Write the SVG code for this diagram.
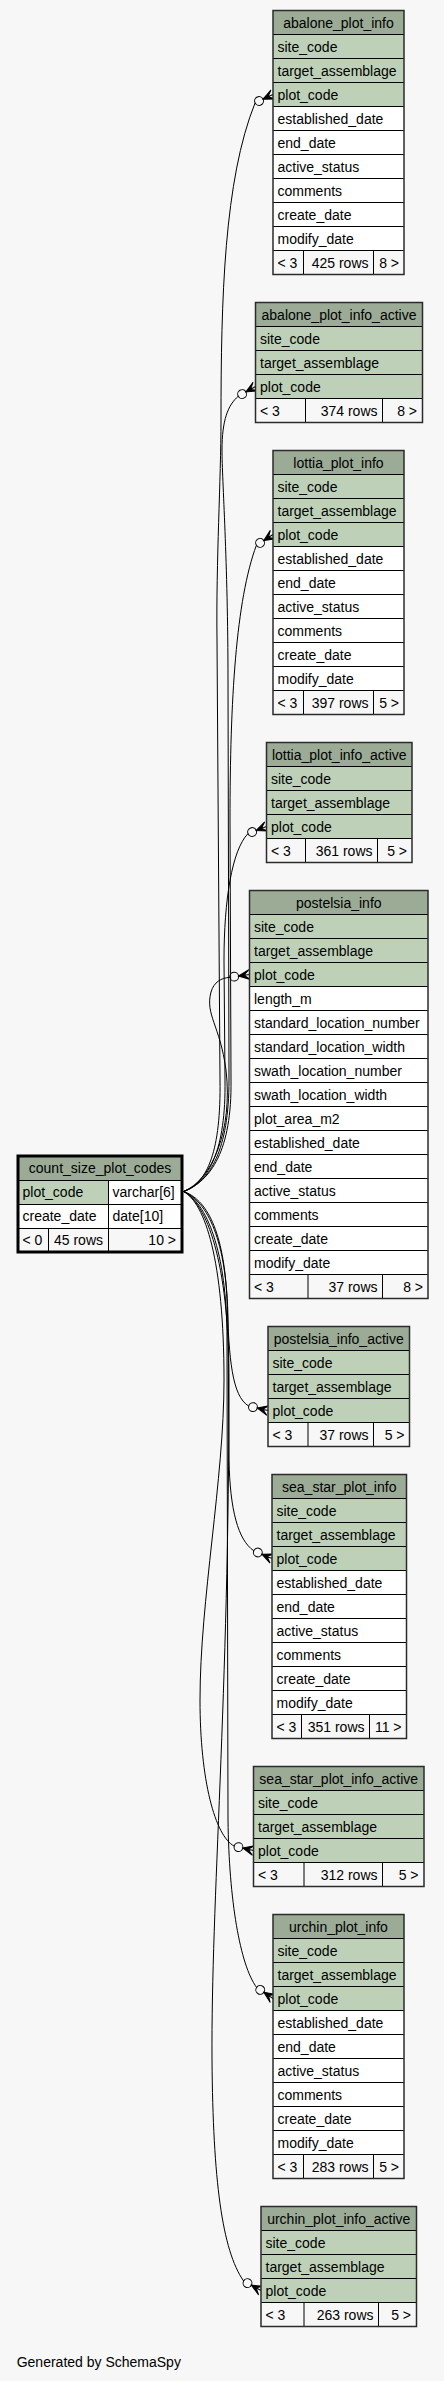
<svg xmlns="http://www.w3.org/2000/svg" xmlns:xlink="http://www.w3.org/1999/xlink" width="444" height="2381" viewBox="0 0 444 2381">
<style>
.h{fill:#9bab96}
.k{fill:#bed1b8}
.w{fill:#ffffff}
.f{fill:#f7f7f7}
.g{fill:none;stroke:#000;stroke-width:1}
.o{fill:none;stroke:#2b2b2b;stroke-width:1.5}
.t{font-family:"Liberation Sans",Arial,Helvetica,sans-serif;font-size:14px;fill:#000}
.c{text-anchor:middle}
.r{text-anchor:end}
.e{fill:none;stroke:#000;stroke-width:1}
</style>
<defs>
<g id="cf">
<polygon points="-11,0 0,-4.95 -5.5,0 0,0 -5.5,0 0,4.95 -11,0" fill="#000" stroke="#000" stroke-width="1"/>
<circle cx="-15.4" cy="0" r="4.4" fill="none" stroke="#000" stroke-width="1"/>
</g>
</defs>
<rect x="0" y="0" width="444" height="2381" fill="#f7f7f7"/>
<g id="connectors">
<path class="e" d="M183.5,1191.5 C208,1183 221,1150 220,1080 L217,640 C216,560 221,480 221,420 C221,300 224,180 255.1,102.9"/>
<path class="e" d="M183.5,1191.5 C210,1182 229,1150 229,1080 L228,680 C228,560 222,480 222,450 C222,420 228,405 238.3,396.2"/>
<path class="e" d="M183.5,1191.5 C211,1181 232,1150 231,1080 L230,820 C230,700 236,600 256.4,545.3"/>
<path class="e" d="M183.5,1191.5 C209,1182 226,1150 225,1080 L224,960 C224,900 232,850 248,833.6"/>
<path class="e" d="M183.5,1191.5 C212,1180 233,1130 226,1070 C220,1025 205,1015 211,992 C214,982 221,978 229.9,977.3"/>
<path class="e" d="M183.5,1191.5 C206,1199 224,1230 227,1300 C229,1360 232,1396 248.7,1406.1"/>
<path class="e" d="M183.5,1191.5 C207,1201 227,1240 228,1320 L229,1460 C230,1510 238,1540 253.8,1550.8"/>
<path class="e" d="M183.5,1191.5 C205,1203 224,1260 224,1380 C224,1480 200,1600 200,1700 C200,1780 215,1836 234.2,1846.1"/>
<path class="e" d="M183.5,1191.5 C206,1202 227,1250 227,1340 L228,1820 C229,1900 240,1965 256.6,1987.4"/>
<path class="e" d="M183.5,1191.5 C206,1203 229,1260 229,1380 C229,1700 211,1900 212,2060 C213,2180 222,2250 243.6,2281"/>
<use xlink:href="#cf" transform="translate(273,94.5) rotate(-25)"/>
<use xlink:href="#cf" transform="translate(255.5,386.5) rotate(-29.5)"/>
<use xlink:href="#cf" transform="translate(273,534.5) rotate(-33)"/>
<use xlink:href="#cf" transform="translate(266.5,826.5) rotate(-21)"/>
<use xlink:href="#cf" transform="translate(249.5,974.5) rotate(-8)"/>
<use xlink:href="#cf" transform="translate(268,1410.5) rotate(12.7)"/>
<use xlink:href="#cf" transform="translate(272,1558.5) rotate(23)"/>
<use xlink:href="#cf" transform="translate(253.5,1850.5) rotate(12.7)"/>
<use xlink:href="#cf" transform="translate(273,1998.5) rotate(34)"/>
<use xlink:href="#cf" transform="translate(261,2290.5) rotate(28.7)"/>
</g>

<g id="abalone_plot_info">
<rect class="h" x="273" y="10.5" width="131" height="24"/>
<rect class="k" x="273" y="34.5" width="131" height="72"/>
<rect class="w" x="273" y="106.5" width="131" height="144"/>
<rect class="f" x="273" y="250.5" width="131" height="24"/>
<path class="g" d="M273,34.5H404M273,58.5H404M273,82.5H404M273,106.5H404M273,130.5H404M273,154.5H404M273,178.5H404M273,202.5H404M273,226.5H404M273,250.5H404M303.5,250.5V274.5M373.5,250.5V274.5"/>
<rect class="o" x="273" y="10.5" width="131" height="264"/>
<text class="t c" x="338.5" y="27.5">abalone_plot_info</text>
<text class="t" x="277.5" y="51.5">site_code</text>
<text class="t" x="277.5" y="75.5">target_assemblage</text>
<text class="t" x="277.5" y="99.5">plot_code</text>
<text class="t" x="277.5" y="123.5">established_date</text>
<text class="t" x="277.5" y="147.5">end_date</text>
<text class="t" x="277.5" y="171.5">active_status</text>
<text class="t" x="277.5" y="195.5">comments</text>
<text class="t" x="277.5" y="219.5">create_date</text>
<text class="t" x="277.5" y="243.5">modify_date</text>
<text class="t" x="277.5" y="267.5">&lt; 3</text>
<text class="t r" x="368.5" y="267.5">425 rows</text>
<text class="t r" x="399" y="267.5">8 &gt;</text>
</g>

<g id="abalone_plot_info_active">
<rect class="h" x="255.5" y="302.5" width="167" height="24"/>
<rect class="k" x="255.5" y="326.5" width="167" height="72"/>
<rect class="f" x="255.5" y="398.5" width="167" height="24"/>
<path class="g" d="M255.5,326.5H422.5M255.5,350.5H422.5M255.5,374.5H422.5M255.5,398.5H422.5M305.5,398.5V422.5M382.5,398.5V422.5"/>
<rect class="o" x="255.5" y="302.5" width="167" height="120"/>
<text class="t c" x="339" y="319.5">abalone_plot_info_active</text>
<text class="t" x="260" y="343.5">site_code</text>
<text class="t" x="260" y="367.5">target_assemblage</text>
<text class="t" x="260" y="391.5">plot_code</text>
<text class="t" x="260" y="415.5">&lt; 3</text>
<text class="t r" x="377.5" y="415.5">374 rows</text>
<text class="t r" x="417" y="415.5">8 &gt;</text>
</g>

<g id="lottia_plot_info">
<rect class="h" x="273" y="450.5" width="131" height="24"/>
<rect class="k" x="273" y="474.5" width="131" height="72"/>
<rect class="w" x="273" y="546.5" width="131" height="144"/>
<rect class="f" x="273" y="690.5" width="131" height="24"/>
<path class="g" d="M273,474.5H404M273,498.5H404M273,522.5H404M273,546.5H404M273,570.5H404M273,594.5H404M273,618.5H404M273,642.5H404M273,666.5H404M273,690.5H404M303.5,690.5V714.5M373.5,690.5V714.5"/>
<rect class="o" x="273" y="450.5" width="131" height="264"/>
<text class="t c" x="338.5" y="467.5">lottia_plot_info</text>
<text class="t" x="277.5" y="491.5">site_code</text>
<text class="t" x="277.5" y="515.5">target_assemblage</text>
<text class="t" x="277.5" y="539.5">plot_code</text>
<text class="t" x="277.5" y="563.5">established_date</text>
<text class="t" x="277.5" y="587.5">end_date</text>
<text class="t" x="277.5" y="611.5">active_status</text>
<text class="t" x="277.5" y="635.5">comments</text>
<text class="t" x="277.5" y="659.5">create_date</text>
<text class="t" x="277.5" y="683.5">modify_date</text>
<text class="t" x="277.5" y="707.5">&lt; 3</text>
<text class="t r" x="368.5" y="707.5">397 rows</text>
<text class="t r" x="399" y="707.5">5 &gt;</text>
</g>

<g id="lottia_plot_info_active">
<rect class="h" x="266.5" y="742.5" width="145.5" height="24"/>
<rect class="k" x="266.5" y="766.5" width="145.5" height="72"/>
<rect class="f" x="266.5" y="838.5" width="145.5" height="24"/>
<path class="g" d="M266.5,766.5H412M266.5,790.5H412M266.5,814.5H412M266.5,838.5H412M305.5,838.5V862.5M377.5,838.5V862.5"/>
<rect class="o" x="266.5" y="742.5" width="145.5" height="120"/>
<text class="t c" x="339.25" y="759.5">lottia_plot_info_active</text>
<text class="t" x="271" y="783.5">site_code</text>
<text class="t" x="271" y="807.5">target_assemblage</text>
<text class="t" x="271" y="831.5">plot_code</text>
<text class="t" x="271" y="855.5">&lt; 3</text>
<text class="t r" x="372.5" y="855.5">361 rows</text>
<text class="t r" x="407" y="855.5">5 &gt;</text>
</g>

<g id="postelsia_info">
<rect class="h" x="249.5" y="890.5" width="178.5" height="24"/>
<rect class="k" x="249.5" y="914.5" width="178.5" height="72"/>
<rect class="w" x="249.5" y="986.5" width="178.5" height="288"/>
<rect class="f" x="249.5" y="1274.5" width="178.5" height="24"/>
<path class="g" d="M249.5,914.5H428M249.5,938.5H428M249.5,962.5H428M249.5,986.5H428M249.5,1010.5H428M249.5,1034.5H428M249.5,1058.5H428M249.5,1082.5H428M249.5,1106.5H428M249.5,1130.5H428M249.5,1154.5H428M249.5,1178.5H428M249.5,1202.5H428M249.5,1226.5H428M249.5,1250.5H428M249.5,1274.5H428M308,1274.5V1298.5M382.5,1274.5V1298.5"/>
<rect class="o" x="249.5" y="890.5" width="178.5" height="408"/>
<text class="t c" x="338.75" y="907.5">postelsia_info</text>
<text class="t" x="254" y="931.5">site_code</text>
<text class="t" x="254" y="955.5">target_assemblage</text>
<text class="t" x="254" y="979.5">plot_code</text>
<text class="t" x="254" y="1003.5">length_m</text>
<text class="t" x="254" y="1027.5">standard_location_number</text>
<text class="t" x="254" y="1051.5">standard_location_width</text>
<text class="t" x="254" y="1075.5">swath_location_number</text>
<text class="t" x="254" y="1099.5">swath_location_width</text>
<text class="t" x="254" y="1123.5">plot_area_m2</text>
<text class="t" x="254" y="1147.5">established_date</text>
<text class="t" x="254" y="1171.5">end_date</text>
<text class="t" x="254" y="1195.5">active_status</text>
<text class="t" x="254" y="1219.5">comments</text>
<text class="t" x="254" y="1243.5">create_date</text>
<text class="t" x="254" y="1267.5">modify_date</text>
<text class="t" x="254" y="1291.5">&lt; 3</text>
<text class="t r" x="377.5" y="1291.5">37 rows</text>
<text class="t r" x="423" y="1291.5">8 &gt;</text>
</g>

<g id="postelsia_info_active">
<rect class="h" x="268" y="1326.5" width="141.5" height="24"/>
<rect class="k" x="268" y="1350.5" width="141.5" height="72"/>
<rect class="f" x="268" y="1422.5" width="141.5" height="24"/>
<path class="g" d="M268,1350.5H409.5M268,1374.5H409.5M268,1398.5H409.5M268,1422.5H409.5M308,1422.5V1446.5M373.5,1422.5V1446.5"/>
<rect class="o" x="268" y="1326.5" width="141.5" height="120"/>
<text class="t c" x="338.75" y="1343.5">postelsia_info_active</text>
<text class="t" x="272.5" y="1367.5">site_code</text>
<text class="t" x="272.5" y="1391.5">target_assemblage</text>
<text class="t" x="272.5" y="1415.5">plot_code</text>
<text class="t" x="272.5" y="1439.5">&lt; 3</text>
<text class="t r" x="368.5" y="1439.5">37 rows</text>
<text class="t r" x="404.5" y="1439.5">5 &gt;</text>
</g>

<g id="sea_star_plot_info">
<rect class="h" x="272" y="1474.5" width="134.5" height="24"/>
<rect class="k" x="272" y="1498.5" width="134.5" height="72"/>
<rect class="w" x="272" y="1570.5" width="134.5" height="144"/>
<rect class="f" x="272" y="1714.5" width="134.5" height="24"/>
<path class="g" d="M272,1498.5H406.5M272,1522.5H406.5M272,1546.5H406.5M272,1570.5H406.5M272,1594.5H406.5M272,1618.5H406.5M272,1642.5H406.5M272,1666.5H406.5M272,1690.5H406.5M272,1714.5H406.5M301.5,1714.5V1738.5M369.5,1714.5V1738.5"/>
<rect class="o" x="272" y="1474.5" width="134.5" height="264"/>
<text class="t c" x="339.25" y="1491.5">sea_star_plot_info</text>
<text class="t" x="276.5" y="1515.5">site_code</text>
<text class="t" x="276.5" y="1539.5">target_assemblage</text>
<text class="t" x="276.5" y="1563.5">plot_code</text>
<text class="t" x="276.5" y="1587.5">established_date</text>
<text class="t" x="276.5" y="1611.5">end_date</text>
<text class="t" x="276.5" y="1635.5">active_status</text>
<text class="t" x="276.5" y="1659.5">comments</text>
<text class="t" x="276.5" y="1683.5">create_date</text>
<text class="t" x="276.5" y="1707.5">modify_date</text>
<text class="t" x="276.5" y="1731.5">&lt; 3</text>
<text class="t r" x="364.5" y="1731.5">351 rows</text>
<text class="t r" x="401.5" y="1731.5">11 &gt;</text>
</g>

<g id="sea_star_plot_info_active">
<rect class="h" x="253.5" y="1766.5" width="170.5" height="24"/>
<rect class="k" x="253.5" y="1790.5" width="170.5" height="72"/>
<rect class="f" x="253.5" y="1862.5" width="170.5" height="24"/>
<path class="g" d="M253.5,1790.5H424M253.5,1814.5H424M253.5,1838.5H424M253.5,1862.5H424M304,1862.5V1886.5M382.5,1862.5V1886.5"/>
<rect class="o" x="253.5" y="1766.5" width="170.5" height="120"/>
<text class="t c" x="338.75" y="1783.5">sea_star_plot_info_active</text>
<text class="t" x="258" y="1807.5">site_code</text>
<text class="t" x="258" y="1831.5">target_assemblage</text>
<text class="t" x="258" y="1855.5">plot_code</text>
<text class="t" x="258" y="1879.5">&lt; 3</text>
<text class="t r" x="377.5" y="1879.5">312 rows</text>
<text class="t r" x="418.5" y="1879.5">5 &gt;</text>
</g>

<g id="urchin_plot_info">
<rect class="h" x="273" y="1914.5" width="131" height="24"/>
<rect class="k" x="273" y="1938.5" width="131" height="72"/>
<rect class="w" x="273" y="2010.5" width="131" height="144"/>
<rect class="f" x="273" y="2154.5" width="131" height="24"/>
<path class="g" d="M273,1938.5H404M273,1962.5H404M273,1986.5H404M273,2010.5H404M273,2034.5H404M273,2058.5H404M273,2082.5H404M273,2106.5H404M273,2130.5H404M273,2154.5H404M303.5,2154.5V2178.5M373.5,2154.5V2178.5"/>
<rect class="o" x="273" y="1914.5" width="131" height="264"/>
<text class="t c" x="338.5" y="1931.5">urchin_plot_info</text>
<text class="t" x="277.5" y="1955.5">site_code</text>
<text class="t" x="277.5" y="1979.5">target_assemblage</text>
<text class="t" x="277.5" y="2003.5">plot_code</text>
<text class="t" x="277.5" y="2027.5">established_date</text>
<text class="t" x="277.5" y="2051.5">end_date</text>
<text class="t" x="277.5" y="2075.5">active_status</text>
<text class="t" x="277.5" y="2099.5">comments</text>
<text class="t" x="277.5" y="2123.5">create_date</text>
<text class="t" x="277.5" y="2147.5">modify_date</text>
<text class="t" x="277.5" y="2171.5">&lt; 3</text>
<text class="t r" x="368.5" y="2171.5">283 rows</text>
<text class="t r" x="399" y="2171.5">5 &gt;</text>
</g>

<g id="urchin_plot_info_active">
<rect class="h" x="261" y="2206.5" width="155.5" height="24"/>
<rect class="k" x="261" y="2230.5" width="155.5" height="72"/>
<rect class="f" x="261" y="2302.5" width="155.5" height="24"/>
<path class="g" d="M261,2230.5H416.5M261,2254.5H416.5M261,2278.5H416.5M261,2302.5H416.5M304,2302.5V2326.5M378.5,2302.5V2326.5"/>
<rect class="o" x="261" y="2206.5" width="155.5" height="120"/>
<text class="t c" x="338.75" y="2223.5">urchin_plot_info_active</text>
<text class="t" x="265.5" y="2247.5">site_code</text>
<text class="t" x="265.5" y="2271.5">target_assemblage</text>
<text class="t" x="265.5" y="2295.5">plot_code</text>
<text class="t" x="265.5" y="2319.5">&lt; 3</text>
<text class="t r" x="373.5" y="2319.5">263 rows</text>
<text class="t r" x="411" y="2319.5">5 &gt;</text>
</g>

<g id="count_size_plot_codes">
<rect class="h" x="18" y="1156" width="164" height="24"/>
<rect class="k" x="18" y="1180" width="90" height="24"/>
<rect class="w" x="108" y="1180" width="74" height="24"/>
<rect class="w" x="18" y="1204" width="164" height="24"/>
<rect class="f" x="18" y="1228" width="164" height="24"/>
<path class="g" d="M18,1180.5H182M18,1204.5H182M18,1228.5H182M108.5,1180V1252M48.5,1228V1252"/>
<rect x="18" y="1156" width="164" height="96" fill="none" stroke="#000" stroke-width="3"/>
<text class="t c" x="100" y="1173">count_size_plot_codes</text>
<text class="t" x="22.5" y="1197">plot_code</text>
<text class="t" x="112.5" y="1197">varchar[6]</text>
<text class="t" x="22.5" y="1221">create_date</text>
<text class="t" x="112.5" y="1221">date[10]</text>
<text class="t" x="22.5" y="1245">&lt; 0</text>
<text class="t r" x="103" y="1245">45 rows</text>
<text class="t r" x="176" y="1245">10 &gt;</text>
</g>

<text class="t" x="16.7" y="2366.5">Generated by SchemaSpy</text>
</svg>
